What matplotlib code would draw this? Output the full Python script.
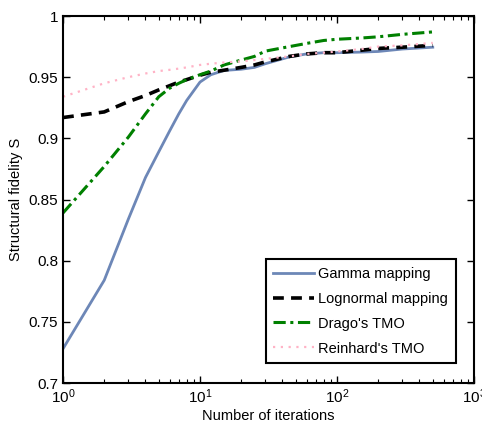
import matplotlib
matplotlib.use('Agg')
import matplotlib.pyplot as plt
from matplotlib.ticker import FixedLocator, FixedFormatter, LogLocator, NullFormatter

plt.rcParams['font.family'] = ['Liberation Sans', 'DejaVu Sans']

# iteration counts
iters = [1, 2, 3, 4, 5, 6, 7, 8, 10, 12, 15, 20, 25, 30, 45, 60, 80, 100, 150, 200, 300, 500]

gamma = [0.728, 0.784, 0.834, 0.868, 0.889, 0.906, 0.920, 0.931, 0.946, 0.952, 0.9555, 0.9565,
         0.958, 0.961, 0.9666, 0.969, 0.970, 0.970, 0.9705, 0.971, 0.973, 0.9745]
lognormal = [0.917, 0.9216, 0.930, 0.935, 0.9396, 0.943, 0.946, 0.948, 0.9516, 0.954, 0.9557, 0.958,
             0.960, 0.9625, 0.967, 0.969, 0.970, 0.970, 0.972, 0.9735, 0.9745, 0.976]
drago = [0.839, 0.877, 0.901, 0.920, 0.934, 0.941, 0.945, 0.948, 0.952, 0.955, 0.960, 0.964,
         0.967, 0.9713, 0.975, 0.9776, 0.980, 0.981, 0.982, 0.983, 0.985, 0.987]
reinhard = [0.934, 0.945, 0.950, 0.953, 0.955, 0.956, 0.957, 0.958, 0.960, 0.961, 0.962, 0.963,
            0.964, 0.965, 0.967, 0.969, 0.970, 0.971, 0.973, 0.975, 0.976, 0.978]

labels = ['Gamma mapping', 'Lognormal mapping', "Drago's TMO", "Reinhard's TMO"]
yticks = [0.7, 0.75, 0.8, 0.85, 0.9, 0.95, 1.0]
ytick_labels = ['0.7', '0.75', '0.8', '0.85', '0.9', '0.95', '1']

fig = plt.figure(figsize=(4.82, 4.29), dpi=100)
ax = fig.add_axes([0.1307, 0.1072, 0.8527, 0.8555])

ax.semilogx(iters, gamma, color='#6d87b7', lw=2.0, label=labels[0])
ax.semilogx(iters, lognormal, color='black', lw=2.6, ls=(0, (3, 2)), label=labels[1])
ax.semilogx(iters, drago, color='#008000', lw=2.2, ls=(0, (4, 1.5, 1, 1.5)), label=labels[2])
ax.semilogx(iters, reinhard, color='#ffb3c6', lw=1.6, ls=(0, (1, 2.5)), label=labels[3])

ax.set_xlim(1, 1000)
ax.set_ylim(0.7, 1.0)
ax.yaxis.set_major_locator(FixedLocator(yticks))
ax.yaxis.set_major_formatter(FixedFormatter(ytick_labels))
ax.xaxis.set_major_locator(LogLocator(base=10))
ax.xaxis.set_minor_locator(LogLocator(base=10, subs=range(2, 10)))
ax.xaxis.set_minor_formatter(NullFormatter())

ax.tick_params(which='both', direction='in', top=True, right=True, labelsize=11)
ax.tick_params(which='major', length=5, width=1)
ax.tick_params(which='minor', length=3, width=0.8)
for s in ax.spines.values():
    s.set_linewidth(1.5)

ax.set_xlabel('Number of iterations', fontsize=10.5, labelpad=2)
ax.set_ylabel('Structural fidelity S', fontsize=10.5, labelpad=4)

leg = ax.legend(loc='lower right', bbox_to_anchor=(0.955, 0.055), fontsize=10.5,
                fancybox=False, framealpha=1, edgecolor='black', borderpad=0.5,
                handlelength=2.8, handletextpad=0.3, labelspacing=0.75, borderaxespad=0)
leg.get_frame().set_linewidth(1.5)

fig.savefig('out.png', dpi=100)
